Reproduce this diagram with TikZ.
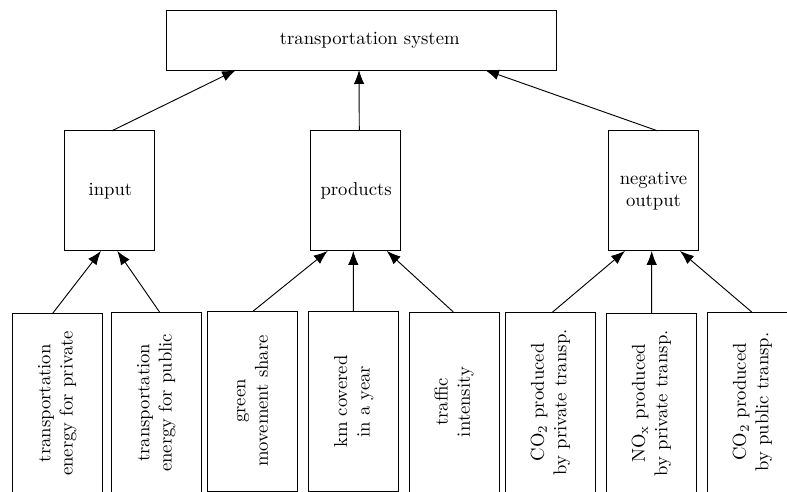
\documentclass[tikz,border=0pt]{standalone}
\usetikzlibrary{arrows.meta,calc}
\begin{document}
\begin{tikzpicture}[x=0.536pt,y=0.536pt,
  box/.style={draw,line width=0.5pt,inner sep=0pt,outer sep=0pt,align=center},
  topbox/.style={box,minimum width={390*0.536pt},minimum height={60*0.536pt}},
  midbox/.style={box,minimum width={90*0.536pt},minimum height={120*0.536pt}},
  lowbox/.style={box,minimum width={90*0.536pt},minimum height={180*0.536pt}},
  arr/.style={line width=0.5pt,-{Latex[length=7.5pt,width=5.6pt]}}]
\clip (0,0) rectangle (787,-492);
\useasboundingbox (0,0) rectangle (787,-492);
\node[topbox] (top) at (361.7,-40) {\hspace*{8.6pt}transportation system};
\node[midbox] (in) at (109.3,-190.9) {\hspace*{1.2pt}input};
\node[midbox] (pr) at (355,-190.9) {\hspace*{1.2pt}products};
\node[midbox] (ng) at (653.5,-190.9) {negative\\output};
\node[lowbox] (b1) at (57,-403.3) {\rotatebox{90}{\begin{tabular}{@{}c@{}}transportation\\energy for private\end{tabular}}};
\node[lowbox] (b2) at (156,-402.7) {\rotatebox{90}{\begin{tabular}{@{}c@{}}transportation\\energy for public\end{tabular}}};
\node[lowbox] (b3) at (252.2,-401) {\rotatebox{90}{\begin{tabular}{@{}c@{}}green\\movement share\end{tabular}}};
\node[lowbox] (b4) at (353.9,-401.7) {\rotatebox{90}{\begin{tabular}{@{}c@{}}km covered\\in a year\end{tabular}}};
\node[lowbox] (b5) at (454.3,-402) {\rotatebox{90}{\begin{tabular}{@{}c@{}}traffic\\intensity\end{tabular}}};
\node[lowbox] (b6) at (550.7,-402.3) {\rotatebox{90}{\begin{tabular}{@{}c@{}}CO$_2$ produced\\by private transp.\end{tabular}}};
\node[lowbox] (b7) at (651.7,-403.3) {\rotatebox{90}{\begin{tabular}{@{}c@{}}NO$_{\mathrm{x}}$ produced\\by private transp.\end{tabular}}};
\node[lowbox] (b8) at (752.7,-402) {\rotatebox{90}{\begin{tabular}{@{}c@{}}CO$_2$ produced\\by public transp.\end{tabular}}};
\draw[arr] ($(in.north)+(2.4,0)$) -- ($(top.south)+(-125.7,0)$);
\draw[arr] ($(pr.north)+(4.3,0)$) -- ($(top.south)+(-2.7,0)$);
\draw[arr] ($(ng.north)+(4.2,0)$) -- ($(top.south)+(123.3,0)$);
\draw[arr] ($(b1.north)+(-4.3,0)$) -- ($(in.south)+(-8.3,0)$);
\draw[arr] ($(b2.north)+(4,0)$) -- ($(in.south)+(8,0)$);
\draw[arr] ($(b3.north)+(1.1,0)$) -- ($(pr.south)+(-27.3,0)$);
\draw[arr] ($(b4.north)+(-0.6,0)$) -- ($(pr.south)+(-1.7,0)$);
\draw[arr] ($(b5.north)+(-1,0)$) -- ($(pr.south)+(31.7,0)$);
\draw[arr] ($(b6.north)+(1.6,0)$) -- ($(ng.south)+(-28.5,0)$);
\draw[arr] ($(b7.north)+(0,0)$) -- ($(ng.south)+(-1.8,0)$);
\draw[arr] ($(b8.north)+(-1,0)$) -- ($(ng.south)+(26.5,0)$);
\end{tikzpicture}
\end{document}
